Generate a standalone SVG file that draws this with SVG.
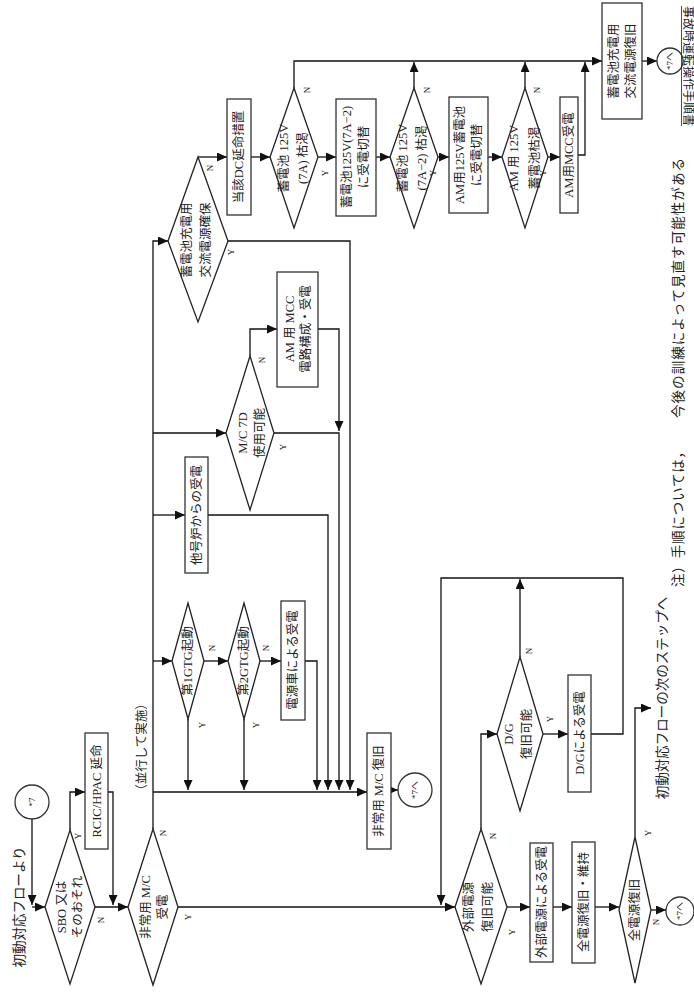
<svg xmlns="http://www.w3.org/2000/svg" width="694" height="992" viewBox="0 0 694 992">
<style>
.bg{fill:#fff}
.bx{fill:#fff;stroke:#333;stroke-width:1.3}
.dm{fill:#fff;stroke:#222;stroke-width:1.3}
.ln{fill:none;stroke:#111;stroke-width:1.3}
.ar{fill:none;stroke:#111;stroke-width:1.3;marker-end:url(#ah)}
text{font-family:"Liberation Serif","Noto Sans CJK JP",serif;fill:#222;text-anchor:middle;dominant-baseline:central}
.t{font-size:12.5px}
.s{font-size:9px}
.n{font-size:13.5px}
</style>
<defs>
<marker id="ah" markerUnits="userSpaceOnUse" markerWidth="11" markerHeight="9" refX="10" refY="4.5" orient="auto">
<path d="M0,0 L10,4.5 L0,9 z" fill="#111"/>
</marker>
</defs>
<rect class="bg" x="0" y="0" width="694" height="992"/>

<g id="connectors">
<path class="ar" d="M32 819 V905"/>
<path class="ar" d="M32 907 H45"/>
<path class="ar" d="M95 907 H128"/>
<path class="ar" d="M70 830 V792 H85"/>
<path class="ar" d="M108 792 H113 V905"/>
<path class="ar" d="M178 907 H455"/>
<path class="ar" d="M153 829 V241 H168"/>
<path class="ar" d="M153 792 H367"/>
<path class="ar" d="M153 661 H172"/>
<path class="ar" d="M153 515 H185"/>
<path class="ar" d="M153 433 H226"/>
<path class="ar" d="M204 661 H228"/>
<path class="ar" d="M188 719 V790"/>
<path class="ar" d="M244 719 V790"/>
<path class="ar" d="M260 661 H281"/>
<path class="ar" d="M305 661 H317 V790"/>
<path class="ar" d="M208 515 H328 V790"/>
<path class="ar" d="M274 433 H339 V790"/>
<path class="ar" d="M250 356 V329 H277"/>
<path class="ar" d="M318 329 H339 V431"/>
<path class="ar" d="M228 241 H350 V790"/>
<path class="ar" d="M198 157 H227"/>
<path class="ar" d="M251 157 H270"/>
<path class="ar" d="M318 157 H336"/>
<path class="ar" d="M376 157 H390"/>
<path class="ar" d="M438 157 H449"/>
<path class="ar" d="M488 157 H502"/>
<path class="ar" d="M548 157 H560"/>
<path class="ar" d="M578 155 H585 V62"/>
<path class="ar" d="M294 88 V61 H602"/>
<path class="ar" d="M414 88 V62"/>
<path class="ar" d="M525 88 V62"/>
<path class="ar" d="M642 61 H657"/>
<path class="ar" d="M391 790 H398"/>
<path class="ar" d="M481 829 V734 H497"/>
<path class="ar" d="M543 734 H568"/>
<path class="ar" d="M591 734 H623 V578 H441 V905"/>
<path class="ar" d="M520 657 V579"/>
<path class="ar" d="M507 907 H530"/>
<path class="ar" d="M553 907 H572"/>
<path class="ar" d="M595 907 H619"/>
<path class="ar" d="M635 837 V708 H651"/>
<path class="ar" d="M651 910 H666"/>
</g>

<g id="label-start"><text class="n" x="19" y="907" transform="rotate(-90 19 907)">初動対応フローより</text></g>
<g id="c-start"><circle class="bx" cx="32" cy="802" r="17"/><text class="s" x="32" y="802" transform="rotate(-90 32 802)">*7</text></g>

<g id="d-sbo"><polygon class="dm" points="70,830 95,907 70,984 45,907"/>
<text class="t" x="62" y="907" transform="rotate(-90 62 907)">SBO 又は</text>
<text class="t" x="78" y="907" transform="rotate(-90 78 907)">そのおそれ</text>
<text class="s" x="78" y="836" transform="rotate(-90 78 836)">Y</text>
<text class="s" x="101" y="920" transform="rotate(-90 101 920)">N</text></g>

<g id="b-rcic"><rect class="bx" x="85" y="733" width="23" height="116"/>
<text class="t" x="96.5" y="791" transform="rotate(-90 96.5 791)">RCIC/HPAC 延命</text></g>

<g id="d-mc"><polygon class="dm" points="153,829 178,907 153,985 128,907"/>
<text class="t" x="146" y="907" transform="rotate(-90 146 907)">非常用 M/C</text>
<text class="t" x="163" y="907" transform="rotate(-90 163 907)">受電</text>
<text class="s" x="163" y="833" transform="rotate(-90 163 833)">N</text>
<text class="s" x="188" y="917" transform="rotate(-90 188 917)">Y</text></g>

<g id="label-par"><text class="t" x="142" y="747" transform="rotate(-90 142 747)">（並行して実施）</text></g>

<g id="d-gtg1"><polygon class="dm" points="188,603 204,661 188,719 172,661"/>
<text class="t" x="188" y="661" transform="rotate(-90 188 661)">第1GTG起動</text>
<text class="s" x="212" y="648" transform="rotate(-90 212 648)">N</text>
<text class="s" x="202" y="725" transform="rotate(-90 202 725)">Y</text></g>

<g id="d-gtg2"><polygon class="dm" points="244,603 260,661 244,719 228,661"/>
<text class="t" x="244" y="661" transform="rotate(-90 244 661)">第2GTG起動</text>
<text class="s" x="266" y="648" transform="rotate(-90 266 648)">N</text>
<text class="s" x="256" y="725" transform="rotate(-90 256 725)">Y</text></g>

<g id="b-psv"><rect class="bx" x="281" y="601" width="24" height="119"/>
<text class="t" x="293" y="660" transform="rotate(-90 293 660)">電源車による受電</text></g>

<g id="b-other"><rect class="bx" x="185" y="457" width="23" height="116"/>
<text class="t" x="196.5" y="515" transform="rotate(-90 196.5 515)">他号炉からの受電</text></g>

<g id="d-mc7d"><polygon class="dm" points="250,356 274,433 250,510 226,433"/>
<text class="t" x="243" y="433" transform="rotate(-90 243 433)">M/C 7D</text>
<text class="t" x="260" y="433" transform="rotate(-90 260 433)">使用可能</text>
<text class="s" x="262" y="360" transform="rotate(-90 262 360)">N</text>
<text class="s" x="283" y="447" transform="rotate(-90 283 447)">Y</text></g>

<g id="b-ammcc"><rect class="bx" x="277" y="272" width="41" height="115"/>
<text class="t" x="290" y="329" transform="rotate(-90 290 329)">AM 用 MCC</text>
<text class="t" x="306" y="329" transform="rotate(-90 306 329)">電路構成・受電</text></g>

<g id="d-chg"><polygon class="dm" points="198,157 228,241 198,322 168,241"/>
<text class="t" x="187" y="240" transform="rotate(-90 187 240)">蓄電池充電用</text>
<text class="t" x="206" y="240" transform="rotate(-90 206 240)">交流電源確保</text>
<text class="s" x="210" y="168" transform="rotate(-90 210 168)">N</text>
<text class="s" x="231" y="252" transform="rotate(-90 231 252)">Y</text></g>

<g id="b-dc"><rect class="bx" x="227" y="99" width="24" height="116"/>
<text class="t" x="239" y="157" transform="rotate(-90 239 157)">当該DC延命措置</text></g>

<g id="d-7a"><polygon class="dm" points="294,88 318,157 294,228 270,157"/>
<text class="t" x="284" y="158" transform="rotate(-90 284 158)">蓄電池 125V</text>
<text class="t" x="303" y="158" transform="rotate(-90 303 158)">(7A) 枯渇</text>
<text class="s" x="307" y="90" transform="rotate(-90 307 90)">N</text>
<text class="s" x="325" y="173" transform="rotate(-90 325 173)">Y</text></g>

<g id="b-7a2"><rect class="bx" x="336" y="99" width="40" height="117"/>
<text class="t" x="347" y="157" transform="rotate(-90 347 157)">蓄電池125V(7A−2)</text>
<text class="t" x="364" y="157" transform="rotate(-90 364 157)">に受電切替</text></g>

<g id="d-7a2"><polygon class="dm" points="414,88 438,157 414,228 390,157"/>
<text class="t" x="403" y="158" transform="rotate(-90 403 158)">蓄電池 125V</text>
<text class="t" x="422" y="158" transform="rotate(-90 422 158)">(7A−2) 枯渇</text>
<text class="s" x="427" y="90" transform="rotate(-90 427 90)">N</text>
<text class="s" x="433" y="173" transform="rotate(-90 433 173)">Y</text></g>

<g id="b-am125"><rect class="bx" x="449" y="97" width="39" height="116"/>
<text class="t" x="460" y="155" transform="rotate(-90 460 155)">AM用125V蓄電池</text>
<text class="t" x="477" y="155" transform="rotate(-90 477 155)">に受電切替</text></g>

<g id="d-am125"><polygon class="dm" points="525,88 548,157 525,228 502,157"/>
<text class="t" x="514" y="158" transform="rotate(-90 514 158)">AM 用 125V</text>
<text class="t" x="535" y="158" transform="rotate(-90 535 158)">蓄電池枯渇</text>
<text class="s" x="537" y="90" transform="rotate(-90 537 90)">N</text>
<text class="s" x="543" y="173" transform="rotate(-90 543 173)">Y</text></g>

<g id="b-ammccr"><rect class="bx" x="560" y="97" width="18" height="116"/>
<text class="t" x="569" y="155" transform="rotate(-90 569 155)">AM用MCC受電</text></g>

<g id="b-acrec"><rect class="bx" x="602" y="3" width="40" height="116"/>
<text class="t" x="614" y="61" transform="rotate(-90 614 61)">蓄電池充電用</text>
<text class="t" x="631" y="61" transform="rotate(-90 631 61)">交流電源復旧</text></g>

<g id="c-end1"><circle class="bx" cx="670" cy="61" r="13"/><text class="s" x="670" y="61" transform="rotate(-90 670 61)">*7へ</text></g>

<g id="b-mcrec"><rect class="bx" x="367" y="733" width="24" height="116"/>
<text class="t" x="379" y="791" transform="rotate(-90 379 791)">非常用 M/C 復旧</text></g>

<g id="c-end2"><circle class="bx" cx="415" cy="790" r="17"/><text class="s" x="415" y="790" transform="rotate(-90 415 790)">*7へ</text></g>

<g id="d-ext"><polygon class="dm" points="481,829 507,907 481,984 455,907"/>
<text class="t" x="469" y="907" transform="rotate(-90 469 907)">外部電源</text>
<text class="t" x="488" y="907" transform="rotate(-90 488 907)">復旧可能</text>
<text class="s" x="493" y="836" transform="rotate(-90 493 836)">N</text>
<text class="s" x="512" y="932" transform="rotate(-90 512 932)">Y</text></g>

<g id="d-dg"><polygon class="dm" points="520,657 543,734 520,811 497,734"/>
<text class="t" x="509" y="734" transform="rotate(-90 509 734)">D/G</text>
<text class="t" x="527" y="734" transform="rotate(-90 527 734)">復旧可能</text>
<text class="s" x="529" y="651" transform="rotate(-90 529 651)">N</text>
<text class="s" x="550" y="719" transform="rotate(-90 550 719)">Y</text></g>

<g id="b-dgr"><rect class="bx" x="568" y="675" width="23" height="117"/>
<text class="t" x="579.5" y="733" transform="rotate(-90 579.5 733)">D/Gによる受電</text></g>

<g id="b-extr"><rect class="bx" x="530" y="843" width="23" height="119"/>
<text class="t" x="541.5" y="902" transform="rotate(-90 541.5 902)">外部電源による受電</text></g>

<g id="b-all"><rect class="bx" x="572" y="842" width="23" height="121"/>
<text class="t" x="583.5" y="902" transform="rotate(-90 583.5 902)">全電源復旧・維持</text></g>

<g id="d-all"><polygon class="dm" points="635,837 651,910 635,983 619,910"/>
<text class="t" x="635" y="910" transform="rotate(-90 635 910)">全電源復旧</text>
<text class="s" x="648" y="833" transform="rotate(-90 648 833)">Y</text>
<text class="s" x="656" y="922" transform="rotate(-90 656 922)">N</text></g>

<g id="label-next"><text class="n" x="662" y="698" transform="rotate(-90 662 698)">初動対応フローの次のステップへ</text></g>

<g id="c-end3"><circle class="bx" cx="680" cy="911" r="14"/><text class="s" x="680" y="911" transform="rotate(-90 680 911)">*7へ</text></g>

<g id="note">
<text class="n" x="678" y="516" transform="rotate(-90 678 516)" textLength="142" lengthAdjust="spacing">注）手順については，</text>
<text class="n" x="678" y="288" transform="rotate(-90 678 288)" textLength="260" lengthAdjust="spacing">今後の訓練によって見直す可能性がある</text>
</g>

<g id="title"><text x="688" y="66" transform="rotate(90 688 66)" style="font-size:12px">事故時運転操作手順書</text>
<line x1="681.5" y1="6" x2="681.5" y2="126" stroke="#222" stroke-width="0.8"/></g>
</svg>
